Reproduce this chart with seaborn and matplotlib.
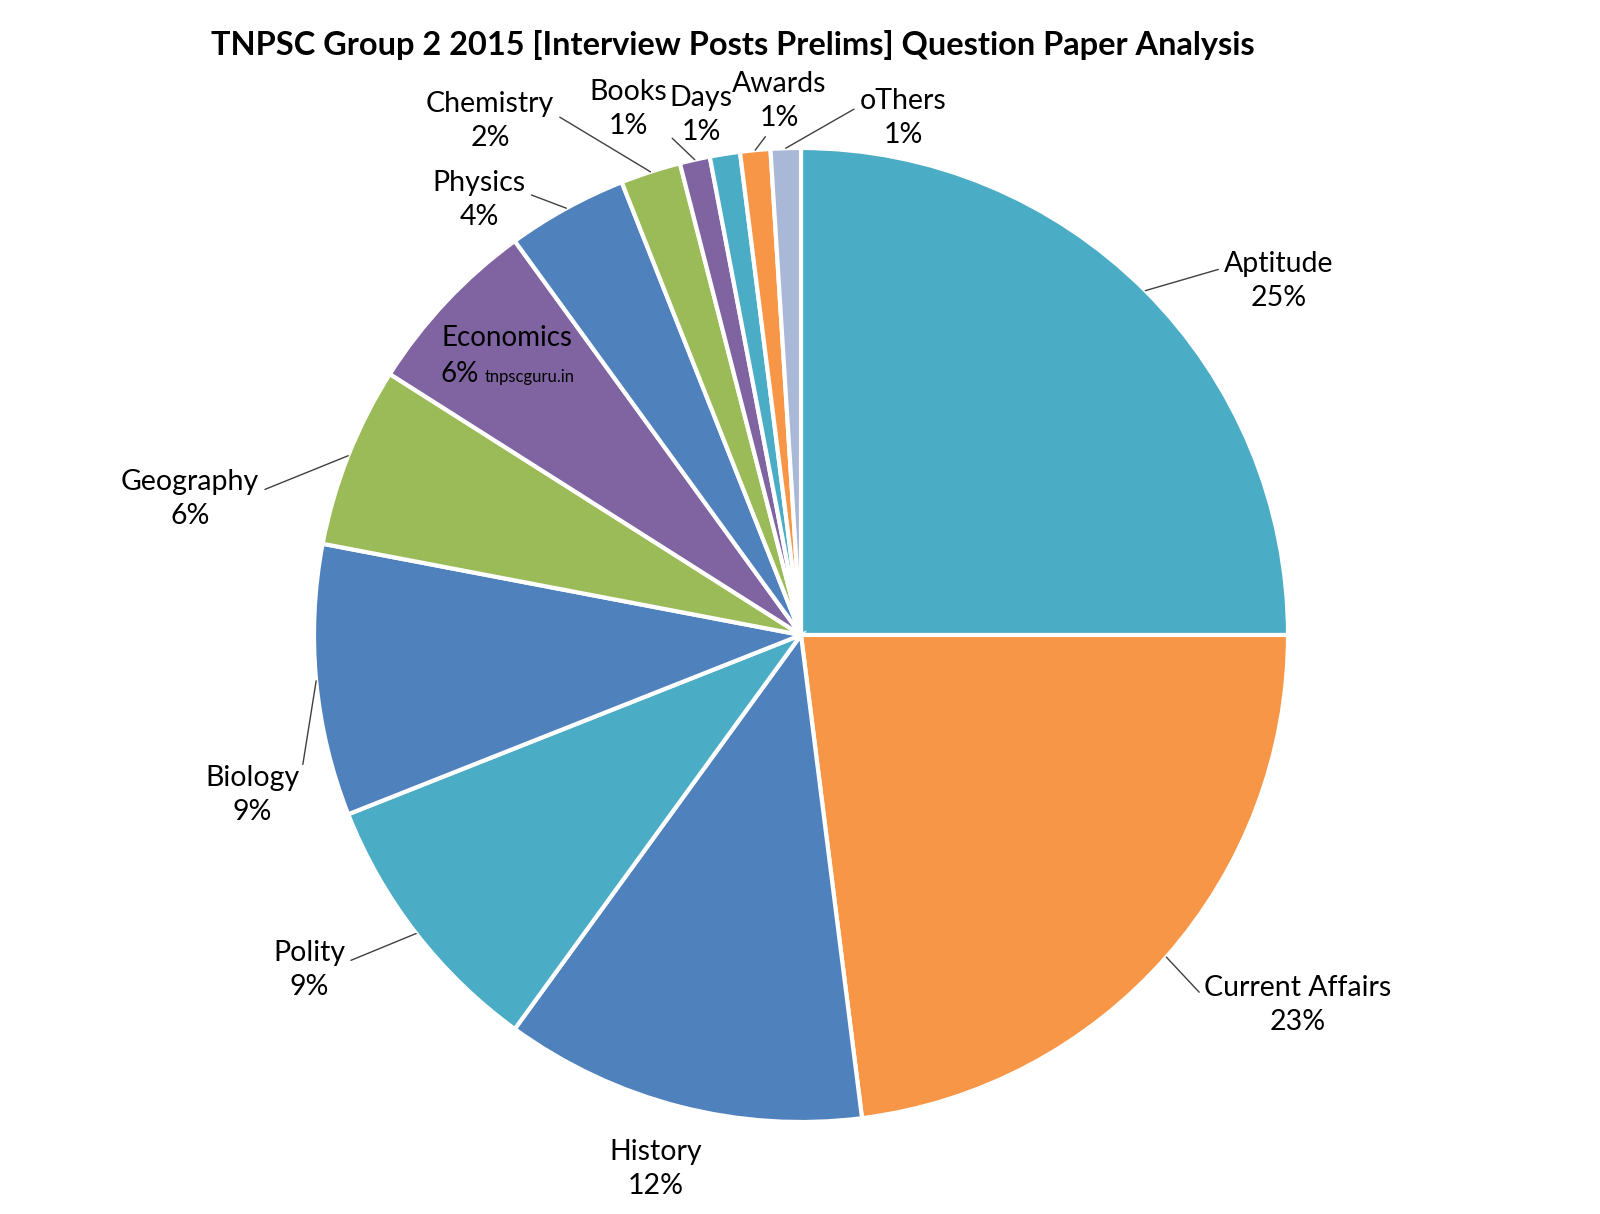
import matplotlib
matplotlib.use('Agg')
import matplotlib.pyplot as plt
import seaborn as sns
import numpy as np

# Data
subjects = ['Aptitude', 'Current Affairs', 'History', 'Polity', 'Biology', 'Geography',
            'Economics', 'Physics', 'Chemistry', 'Books', 'Days', 'Awards', 'oThers']
shares = [25, 23, 12, 9, 9, 6, 6, 4, 2, 1, 1, 1, 1]
colours = ['#4BACC6', '#F79646', '#4F81BD', '#4BACC6', '#4F81BD', '#9BBB59',
           '#8064A2', '#4F81BD', '#9BBB59', '#8064A2', '#4BACC6', '#F79646', '#A9B8D6']

# label block centres (pixels in the 1600x1214 image) and where the leader line meets the text
label_px = {
    'Aptitude': (1279, 281), 'Current Affairs': (1298, 1005), 'History': (656, 1169),
    'Polity': (309, 970), 'Biology': (252, 795), 'Geography': (190, 499),
    'Physics': (479, 200), 'Chemistry': (490, 121), 'Books': (628, 109),
    'Days': (701, 115), 'Awards': (779, 101), 'oThers': (903, 118),
}
relpos = {
    'Aptitude': (0, 0.72), 'Current Affairs': (0, 0.62), 'History': None,
    'Polity': (1, 0.62), 'Biology': (1, 0.62), 'Geography': (1, 0.62),
    'Physics': (1, 0.62), 'Chemistry': (1, 0.62), 'Books': (1, 0.1),
    'Days': None, 'Awards': (0.4, 0.0), 'oThers': (0, 0.7),
}

sns.set_style('white')
plt.rcParams['font.family'] = ['Lato', 'DejaVu Sans']
plt.rcParams['text.color'] = 'black'

W, H = 1600, 1214
cx, cy, R = 801, 635, 487
fig = plt.figure(figsize=(16, 12.14), dpi=100)
ax = fig.add_axes([(cx - R) / W, (H - cy - R) / H, 2 * R / W, 2 * R / H])

wedges, _ = ax.pie(shares, colors=colours, startangle=90, counterclock=False,
                   wedgeprops=dict(edgecolor='white', linewidth=3))
ax.set_xlim(-1, 1)
ax.set_ylim(-1, 1)
ax.axis('off')


def to_data(px, py):
    return (px - cx) / R, (cy - py) / R


for w, name, val in zip(wedges, subjects, shares):
    if name == 'Economics':
        continue
    mid = np.deg2rad((w.theta1 + w.theta2) / 2)
    edge = (np.cos(mid), np.sin(mid))
    tx, ty = to_data(*label_px[name])
    rp = relpos[name]
    props = None
    if rp is not None:
        props = dict(arrowstyle='-', color='#404040', lw=1, relpos=rp,
                     shrinkA=2, shrinkB=0)
    ax.annotate(f'{name}\n{val}%', xy=edge, xytext=(tx, ty), ha='center', va='center',
                fontsize=20.5, linespacing=1.4, color='black', arrowprops=props,
                annotation_clip=False)

# Economics label sits inside its slice
ex, ey = to_data(441, 338)
ax.text(ex, ey, 'Economics', ha='left', va='center', fontsize=20, color='black')
ex, ey = to_data(441, 374)
ax.text(ex, ey, f'{shares[6]}%', ha='left', va='center', fontsize=20, color='black')
wx, wy = to_data(485, 377)
ax.text(wx, wy, 'tnpscguru.in', ha='left', va='center', fontsize=12, color='black')

fig.text(0.458, 1 - 45 / H, 'TNPSC Group 2 2015 [Interview Posts Prelims] Question Paper Analysis',
         ha='center', va='center', fontsize=23.4, fontweight='bold', color='black')

fig.savefig('out.png', dpi=100, facecolor='white')
